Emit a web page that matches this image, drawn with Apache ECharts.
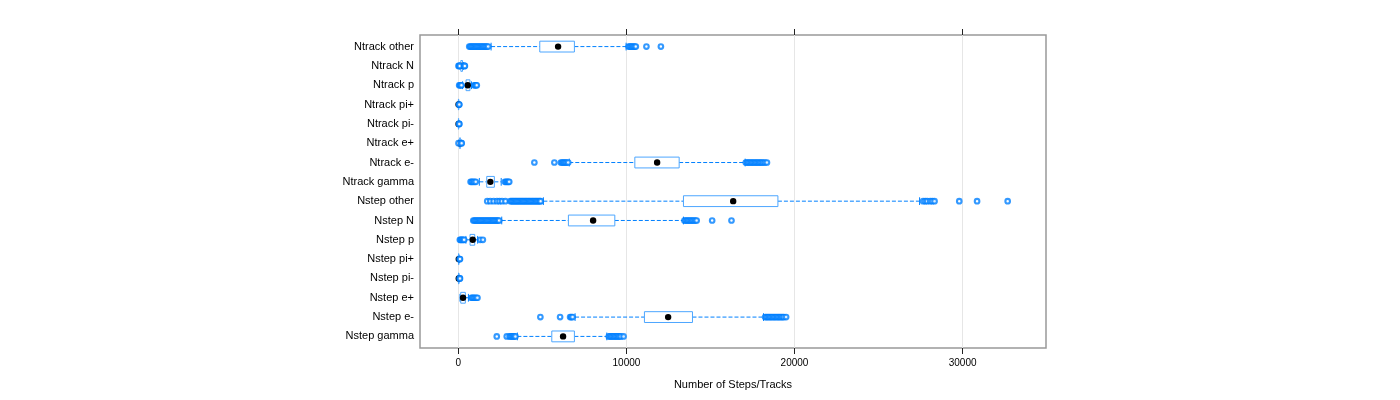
<!DOCTYPE html>
<html>
<head>
<meta charset="utf-8">
<script src="https://cdn.jsdelivr.net/npm/echarts@6/dist/echarts.min.js"></script>
<style>
html,body{margin:0;padding:0;background:#fff;}
#chart{width:1400px;height:400px;}
</style>
</head>
<body>
<div id="chart"></div>
<script>
// Categories, top to bottom
const categories = ["Ntrack other","Ntrack N","Ntrack p","Ntrack pi+","Ntrack pi-","Ntrack e+","Ntrack e-","Ntrack gamma",
  "Nstep other","Nstep N","Nstep p","Nstep pi+","Nstep pi-","Nstep e+","Nstep e-","Nstep gamma"];

// Box statistics (lower whisker, Q1, median, Q3, upper whisker)
const whiskerLo = [1950, 100, 250, 0, 0, 40, 6600, 1250, 5060, 2583, 450, 0, 0, 100, 6946, 3512];
const q1        = [4845, 150, 460, 5, 5, 80, 10500, 1690, 13393, 6548, 696, 10, 10, 143, 11071, 5560];
const median    = [5935, 200, 560, 15, 15, 100, 11827, 1905, 16351, 8018, 857, 25, 25, 280, 12482, 6232];
const q3        = [6905, 250, 690, 25, 25, 120, 13137, 2143, 19012, 9310, 976, 40, 40, 417, 13929, 6905];
const whiskerHi = [9980, 300, 780, 40, 40, 160, 17065, 2550, 27440, 13393, 1150, 60, 60, 600, 18155, 8833];

// Outliers per category
const outliers = [
  [650,720,790,860,930,1000,1070,1140,1210,1280,1350,1420,1490,1560,1630,1700,1780,10130,10200,10270,10340,10420,10490,10560,11190,12050],
  [10,50,90,330,360,390],
  [50,100,150,190,950,1000,1050,1100],
  [45,60],
  [45,60],
  [10,180,200],
  [4524,5714,6100,6170,6240,6310,6380,6450,6540,17100,17180,17260,17340,17420,17500,17580,17660,17740,17820,17900,17980,18060,18150,18250,18360],
  [730,800,870,950,1040,2770,2840,2910,2970,3030],
  [1720,1900,2100,2300,2450,2600,2800,3100,3170,3240,3310,3380,3450,3520,3590,3660,3730,3800,3870,3940,4010,4080,4150,4220,4290,4360,4430,4500,4570,4640,4710,4780,4850,4900,27650,27780,27900,28075,28200,28330,29800,30860,32680],
  [890,960,1030,1100,1170,1240,1310,1380,1450,1520,1590,1660,1730,1800,1870,1940,2010,2080,2150,2220,2290,2360,2430,13450,13530,13610,13690,13770,13850,13930,14010,14100,14180,15100,16250],
  [90,140,190,240,300,350,1300,1460],
  [80,100],
  [80,100],
  [770,840,910,980,1060,1140],
  [4881,6054,6650,6720,6800,18250,18330,18410,18490,18570,18650,18730,18810,18890,18970,19050,19130,19210,19290,19370,19500],
  [2286,2881,3050,3120,3190,3260,3330,3400,8950,9030,9110,9190,9270,9350,9430,9510,9590,9670,9830]
];

const xTicks = [0, 10000, 20000, 30000];
const FONT = "'Liberation Sans',Arial,sans-serif";
const BLUE = '#0080ff';

const rowIdx = categories.map((c, i) => i);
const boxData = categories.map((c, i) => [i, whiskerLo[i], q1[i], median[i], q3[i], whiskerHi[i]]);
const outlierData = [];
outliers.forEach((arr, i) => arr.forEach(v => outlierData.push([v, i])));

function renderBox(params, api) {
  const i = api.value(0);
  const pLo = api.coord([api.value(1), i]);
  const pQ1 = api.coord([api.value(2), i]);
  const pMed = api.coord([api.value(3), i]);
  const pQ3 = api.coord([api.value(4), i]);
  const pHi = api.coord([api.value(5), i]);
  const bandH = Math.abs(api.size([0, 1])[1]);
  const hh = bandH * 0.28;
  const sh = bandH * 0.2;
  const y = pMed[1];
  const dash = {stroke: BLUE, lineWidth: 1, lineDash: [4, 2]};
  const solid = {stroke: BLUE, lineWidth: 1};
  return {
    type: 'group',
    children: [
      {type: 'line', shape: {x1: pLo[0], y1: y, x2: pQ1[0], y2: y}, style: dash},
      {type: 'line', shape: {x1: pQ3[0], y1: y, x2: pHi[0], y2: y}, style: dash},
      {type: 'line', shape: {x1: pLo[0], y1: y - sh, x2: pLo[0], y2: y + sh}, style: solid},
      {type: 'line', shape: {x1: pHi[0], y1: y - sh, x2: pHi[0], y2: y + sh}, style: solid},
      {type: 'rect', shape: {x: pQ1[0], y: y - hh, width: pQ3[0] - pQ1[0], height: 2 * hh},
        style: {fill: '#ffffff', stroke: '#4da6ff', lineWidth: 1}},
      {type: 'circle', shape: {cx: pMed[0], cy: y, r: 3.2}, style: {fill: '#000'}, z2: 100}
    ]
  };
}

const chart = echarts.init(document.getElementById('chart'), null, {renderer: 'canvas'});
chart.setOption({
  animation: false,
  backgroundColor: '#fff',
  grid: {left: 420, right: 354, top: 35, bottom: 52, show: true, borderColor: '#999', borderWidth: 1.5, backgroundColor: 'transparent'},
  xAxis: [{
    type: 'value', min: -2280, max: 34960, position: 'bottom',
    name: 'Number of Steps/Tracks', nameLocation: 'middle', nameGap: 31,
    nameTextStyle: {fontFamily: FONT, fontSize: 11, color: '#000'},
    axisLine: {show: false, onZero: false},
    axisTick: {show: true, inside: false, length: 6, customValues: xTicks, lineStyle: {color: '#222', width: 1}},
    axisLabel: {customValues: xTicks, fontFamily: FONT, fontSize: 10, color: '#000', margin: 10,
      formatter: v => String(v)},
    splitLine: {show: true, lineStyle: {color: '#e6e6e6', width: 1}}
  }, {
    type: 'value', min: -2280, max: 34960, position: 'top',
    axisLine: {show: false, onZero: false},
    axisTick: {show: true, inside: false, length: 6, customValues: xTicks, lineStyle: {color: '#222', width: 1}},
    axisLabel: {show: false},
    splitLine: {show: false}
  }],
  yAxis: {
    type: 'value', min: -0.6, max: 15.6, inverse: true, position: 'left',
    axisLine: {show: false, onZero: false}, axisTick: {show: false},
    axisLabel: {customValues: rowIdx, fontFamily: FONT, fontSize: 11, color: '#000', margin: 6,
      formatter: v => categories[Math.round(v)]},
    splitLine: {show: false}
  },
  series: [{
    type: 'custom', renderItem: renderBox, data: boxData,
    encode: {x: [1, 2, 3, 4, 5], y: 0}, z: 2
  }, {
    type: 'scatter', data: outlierData, symbol: 'circle', symbolSize: 4.6,
    itemStyle: {color: '#fff', borderColor: BLUE, borderWidth: 2.1}, z: 3
  }]
});
</script>
</body>
</html>
